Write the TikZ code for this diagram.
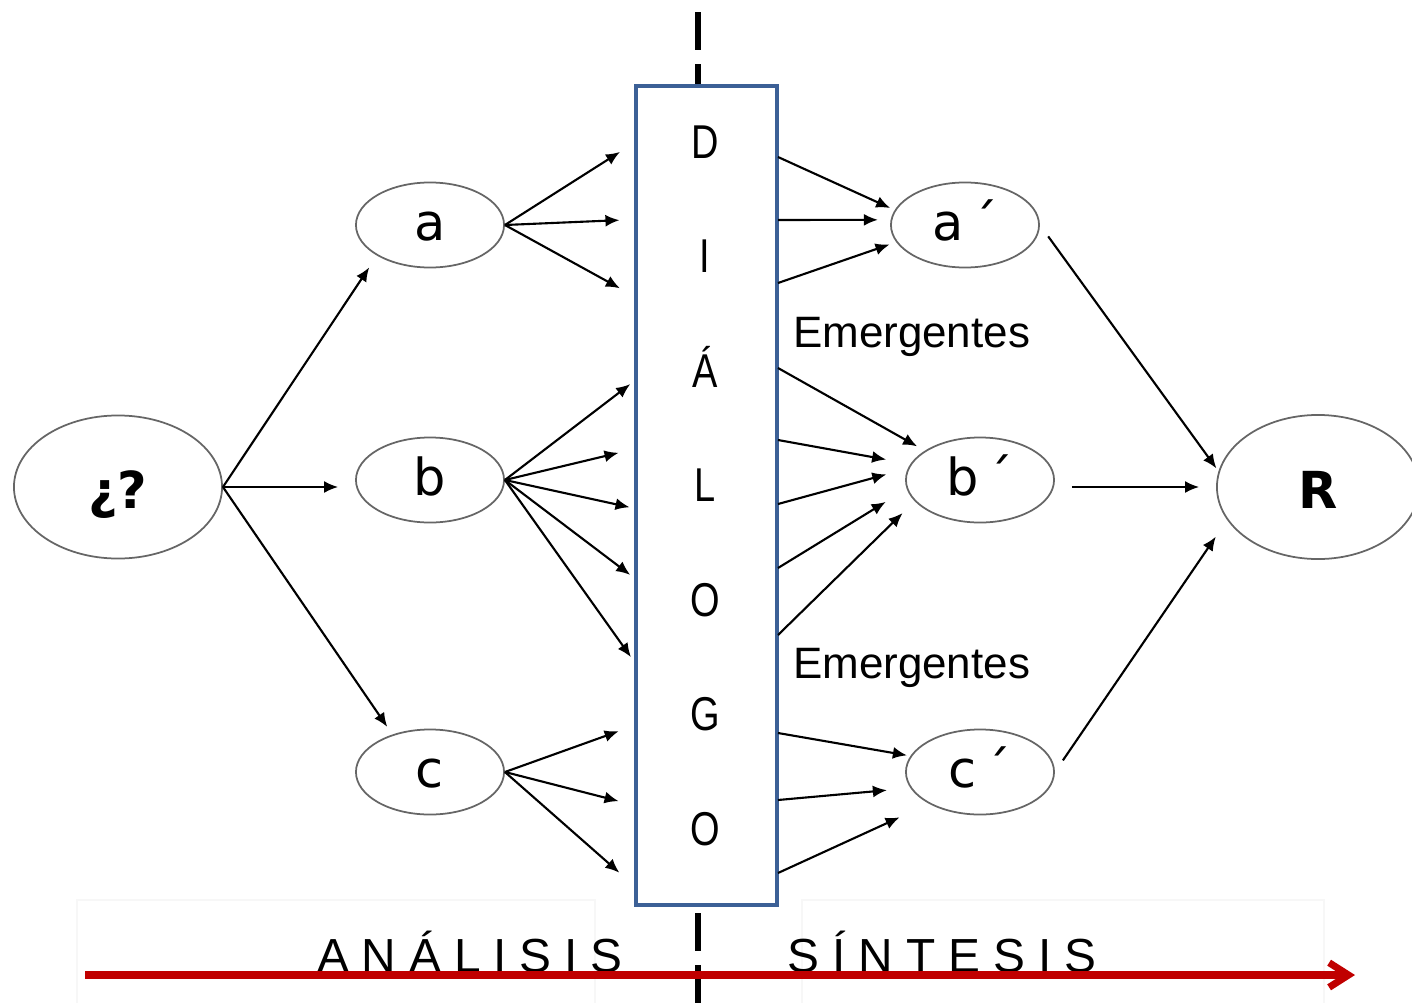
\documentclass[tikz,border=0pt]{standalone}
\usepackage{fontspec}
\usepackage{tikz}
\usetikzlibrary{arrows,arrows.meta,shapes.geometric,calc,positioning}

\newfontfamily\elipfont{DejaVu Sans}
\newfontfamily\dialfont[FakeStretch=0.8]{Liberation Sans}
\newfontfamily\emerfont{Liberation Sans}
\newfontfamily\ejefont[LetterSpace=27]{Liberation Sans}

\definecolor{azulcaja}{RGB}{60,96,150}
\definecolor{rojoeje}{RGB}{192,0,0}

\tikzset{
  elipse/.style={ellipse,draw=black!60,line width=0.5pt,inner sep=0pt,
    minimum width=1.48cm,minimum height=0.85cm,text height=9pt,text depth=0pt,
    font=\elipfont\fontsize{14.5pt}{17pt}\selectfont},
  grande/.style={elipse,minimum width=2.08cm,minimum height=1.43cm,text height=12pt,
    font=\elipfont\bfseries\fontsize{14.5pt}{17pt}\selectfont},
  caja/.style={rectangle,draw=azulcaja,line width=1.2pt,fill=white,
    minimum width=1.41cm,minimum height=8.19cm},
  letra/.style={anchor=base,inner sep=0pt,font=\dialfont\fontsize{13.5pt}{16pt}\selectfont},
  emerge/.style={anchor=base west,inner sep=0pt,font=\emerfont\fontsize{12.5pt}{15pt}\selectfont},
  eje/.style={anchor=base,inner sep=0pt,font=\ejefont\fontsize{13.6pt}{16pt}\selectfont},
  guia/.style={-,shorten >=0pt,line width=1.8pt,dash pattern=on 10.8pt off 4pt},
  marco/.style={-,draw=black!3,line width=0.3pt},
  flecharoja/.style={-{Straight Barb[length=5.5pt,width=7pt]},shorten >=0pt,draw=rojoeje,line width=2pt}
}

\begin{document}
\begin{tikzpicture}[->,>={Latex[length=4pt,width=3.4pt]},shorten >=1pt,semithick,x=0.01cm,y=-0.01cm]
  \useasboundingbox (0,0) rectangle (1412,1003);
  % fondo de los rotulos
  \draw[marco] (77,900) rectangle (595,1015);
  \draw[marco] (802,900) rectangle (1324,1015);
  % linea divisoria
  \draw[guia] (698,12) -- (698,86);
  \draw[guia] (698,913) -- (698,1003);

  \node[caja] (box) at (706.5,495.5) {};
  \foreach \l [count=\i] in {D,I,Á,L,O,G,O}
    \node[letra] (d\i) at (705,{158+114.5*(\i-1)}) {\l};

  \node[grande] (q) at (118,487) {¿?};
  \node[elipse] (a) at (430,225) {a};
  \node[elipse] (b) at (430,480) {b};
  \node[elipse] (c) at (430,772) {c};
  \node[elipse] (ap) at (965,225) {a\,´};
  \node[elipse] (bp) at (980,480) {b\,´};
  \node[elipse] (cp) at (980,772) {c\,´};
  \node[grande,minimum width=2.02cm,minimum height=1.44cm] (R) at (1318,487) {R};

  \node[emerge] (em1) at (792,347) {Emergentes};
  \node[emerge] (em2) at (792,678) {Emergentes};

  % puntos sobre la caja
  \foreach \n/\y in {1/150,2/220,3/290} \coordinate (ia\n) at (623,\y);
  \foreach \n/\x/\y in {1/633/382,2/622/452,3/633/508,4/633/577,5/633/660} \coordinate (ib\n) at (\x,\y);
  \foreach \n/\y in {1/730,2/802,3/875} \coordinate (ic\n) at (622,\y);
  \foreach \n/\y in {1/157,2/220,3/283} \coordinate (sa\n) at (778,\y);
  \foreach \n/\y in {1/368,2/440,3/504,4/568,5/635} \coordinate (sb\n) at (778,\y);
  \foreach \n/\y in {1/733,2/800,3/873} \coordinate (sc\n) at (778,\y);

  \path
(q.east) edge [shorten >=4pt] (a.south west)
(q.east) edge [shorten >=4.8pt] (q.east -| b.west)
(q.east) edge [shorten >=2.6pt] (c.135)
(a.east) edge (ia1) edge (ia2) edge (ia3)
(b.east) edge (ib1) edge (ib2) edge (ib3) edge (ib4) edge (ib5)
(c.east) edge (ic1) edge (ic2) edge (ic3)
(sa1) edge [shorten >=1.4pt] (ap.168)
(sa2) edge [shorten >=3.6pt] (ap.176)
(sa3) edge [shorten >=2pt] (ap.194.5)
(sb1) edge [shorten >=2.5pt] (bp.152)
(sb2) edge [shorten >=7pt] (bp.167)
(sb3) edge [shorten >=6.3pt] (bp.171.4)
(sb4) edge [shorten >=7pt] (bp.187.6)
(sb5) edge [shorten >=4.8pt] (bp.198.8)
(sc1) edge [shorten >=1pt] (cp.167)
(sc2) edge [shorten >=6.7pt] (cp.193.5)
(sc3) edge [shorten >=9.2pt] (cp.212.5)
(ap.east) edge [shorten <=4pt] (R.171)
(bp.east |- R.west) edge [shorten <=4.8pt,shorten >=4.8pt] (R.west)
(cp.east) edge [shorten <=4pt,shorten >=5.7pt] (R.200)
;

  % eje inferior
  \node[eje] (analisis) at (470,972) {ANÁLISIS};
  \node[eje] (sintesis) at (942,972) {SÍNTESIS};
  \coordinate (inicio) at (85,975);
  \coordinate (fin) at (1355,975);
  \draw[flecharoja] (inicio) -- (fin);
\end{tikzpicture}
\end{document}
